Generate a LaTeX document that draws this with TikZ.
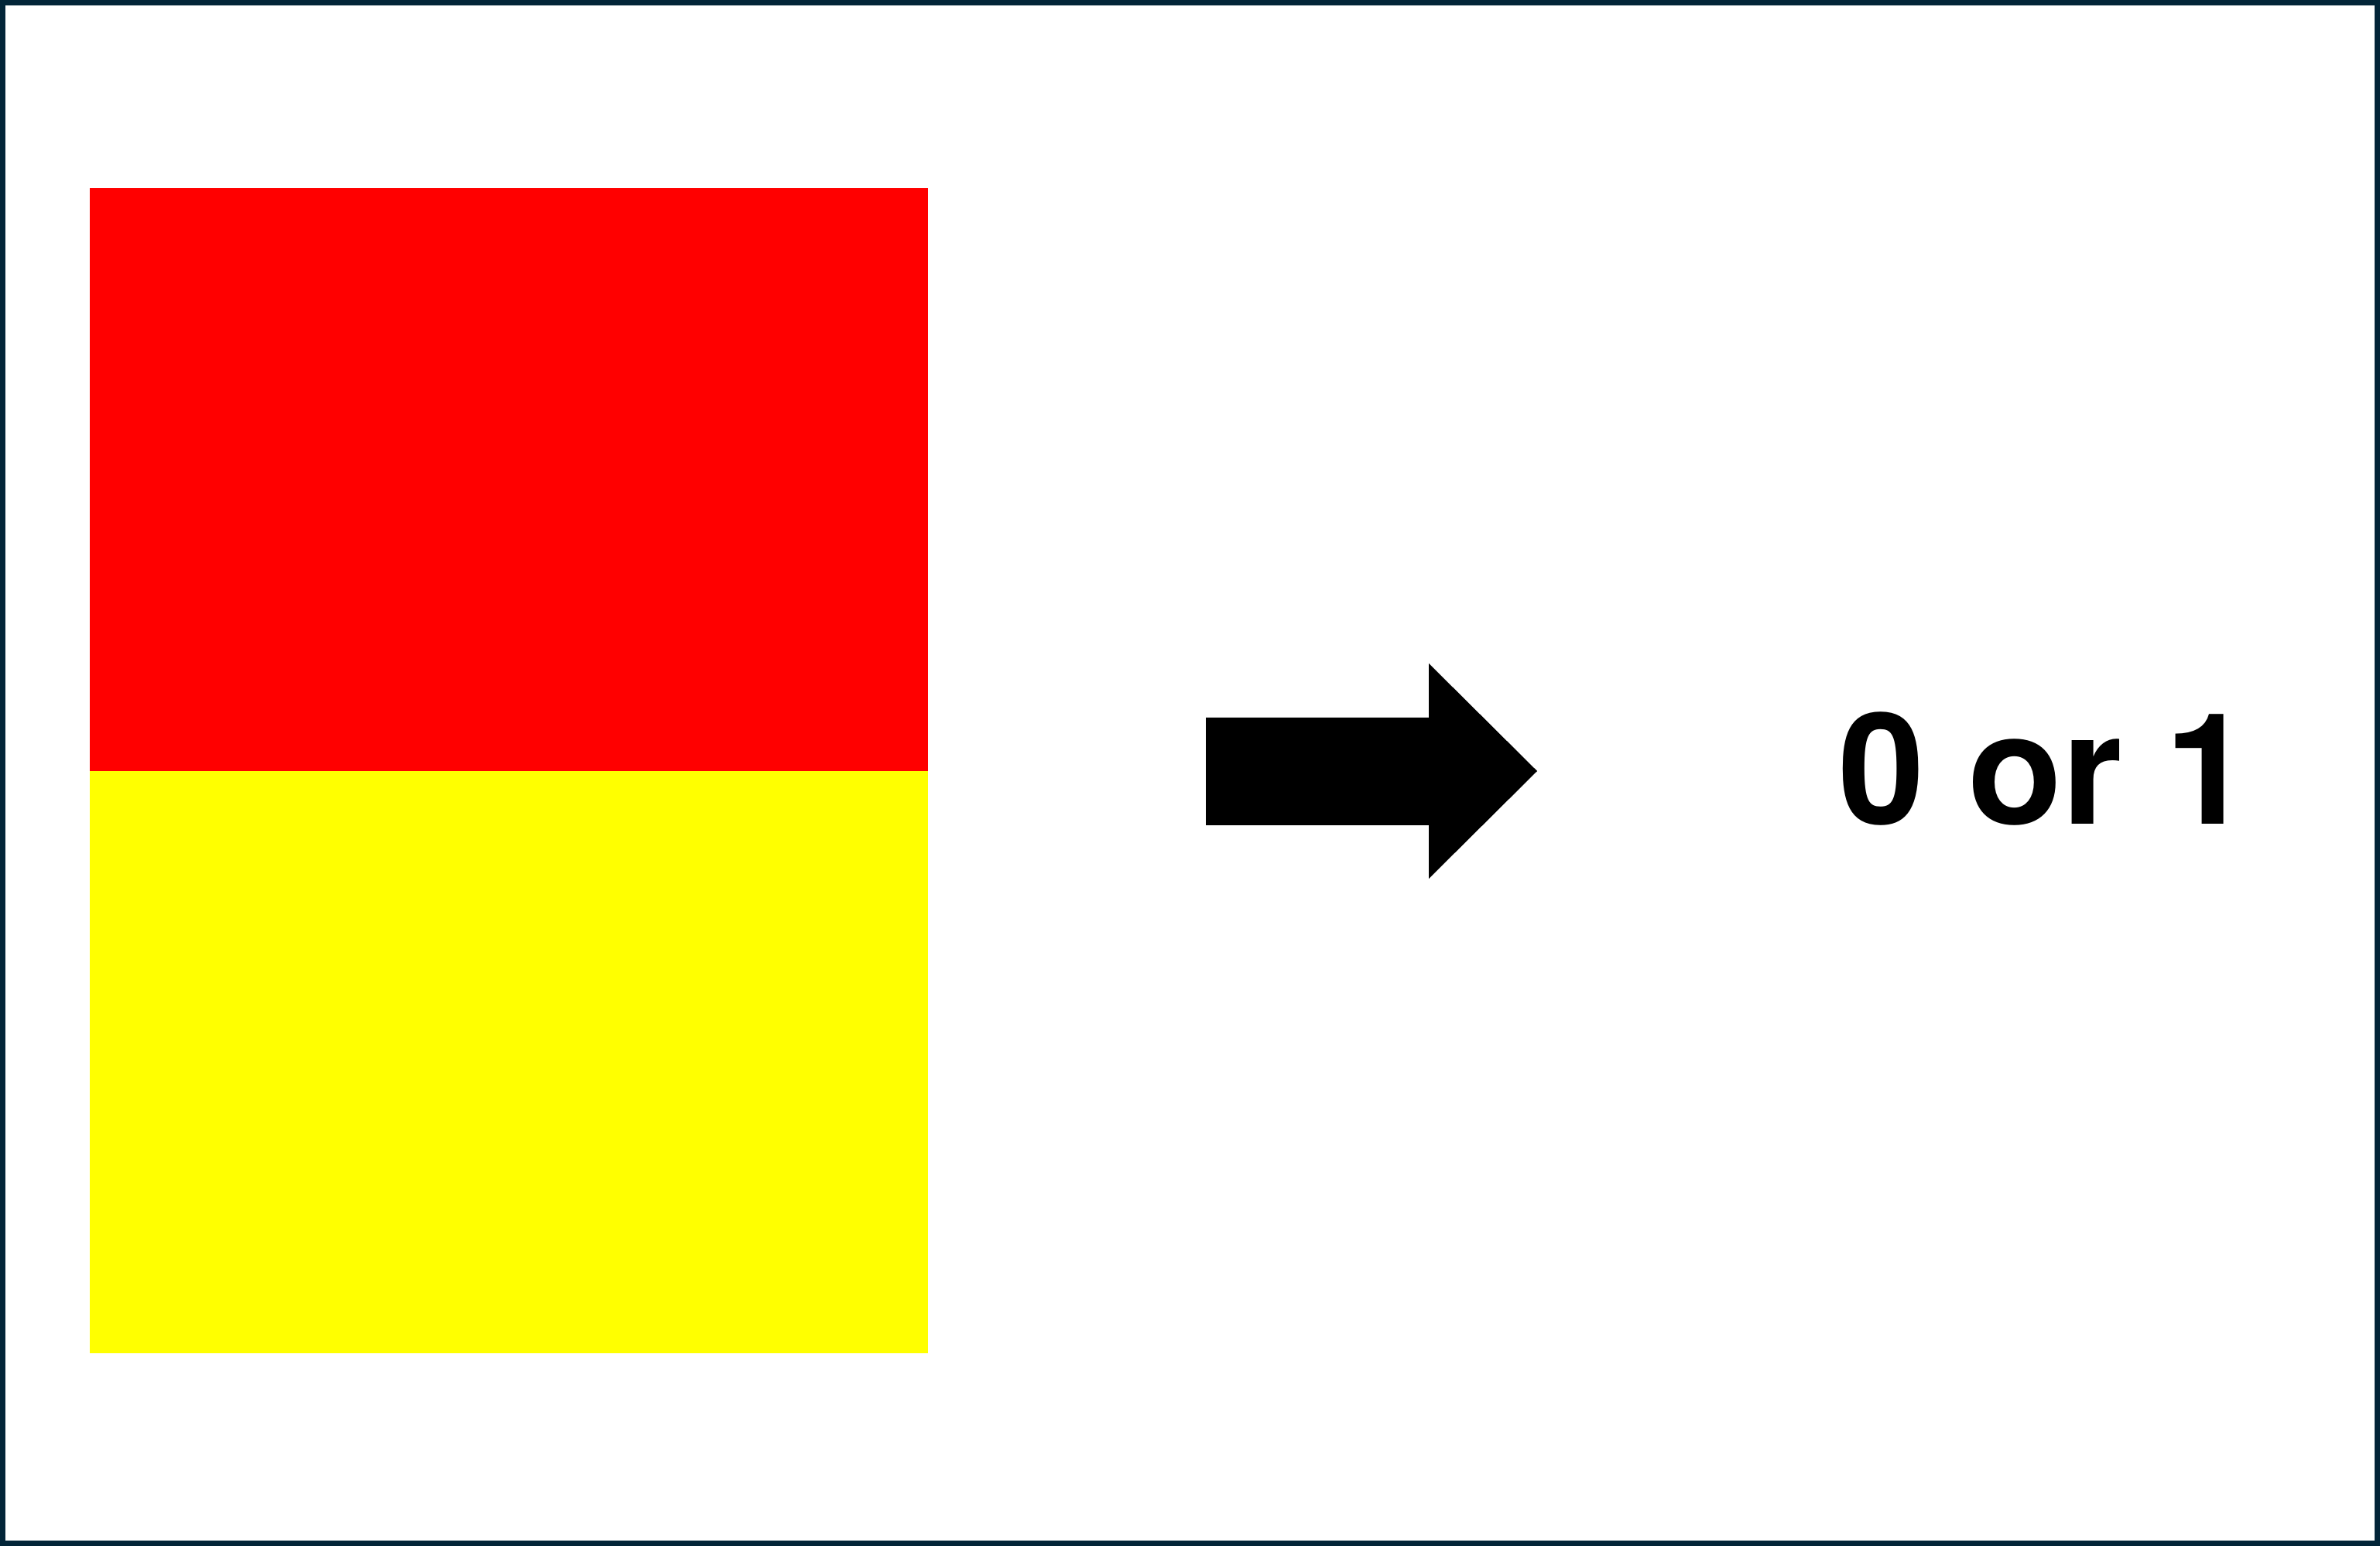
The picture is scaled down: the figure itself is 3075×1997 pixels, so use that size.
\documentclass[tikz,border=0pt]{standalone}
\usepackage{fontspec}
\newfontfamily\labelfont{TeX Gyre Heros}
\definecolor{frame}{HTML}{022538}
\definecolor{topred}{HTML}{FF0000}
\definecolor{botyellow}{HTML}{FFFF00}
\tikzset{
  panel/.style={draw=none},
  bigarrow/.style={fill=black,draw=none},
  label/.style={font=\labelfont\bfseries\fontsize{50pt}{60pt}\selectfont,inner sep=0pt}
}
\begin{document}
\begin{tikzpicture}[x=0.25pt,y=-0.25pt]
\useasboundingbox (0,0) rectangle (3075,1997);
\fill[white] (0,0) rectangle (3075,1997);
\draw[frame,line width=1.75pt] (3.5,3.5) rectangle (3071.5,1993.5);
\fill[topred,panel] (116,243) rectangle (1199,996);
\fill[botyellow,panel] (116,996) rectangle (1199,1748);
\fill[bigarrow] (1558,927) -- (1846,927) -- (1846,857) -- (1986,996) -- (1846,1135) -- (1846,1066) -- (1558,1066) -- cycle;
\node[label,anchor=base] (result) at (2642,1065) {0 or 1};
\end{tikzpicture}
\end{document}
